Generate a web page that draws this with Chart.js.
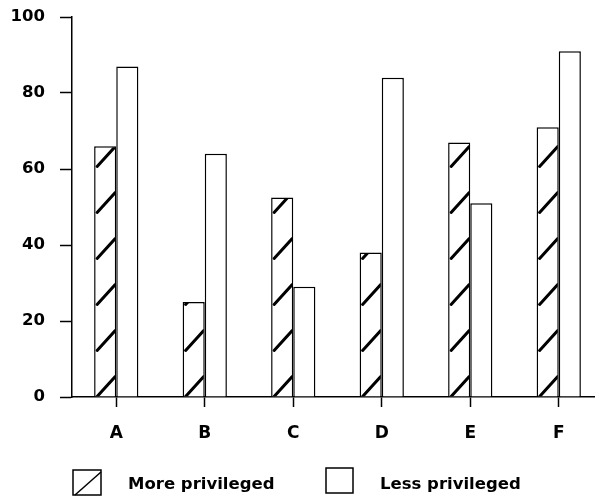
<!DOCTYPE html>
<html>
<head>
<meta charset="utf-8">
<script src="https://cdn.jsdelivr.net/npm/chart.js@4/dist/chart.umd.min.js"></script>
<style>
  html, body { margin: 0; padding: 0; background: #fff; overflow: hidden; }
  #wrap { width: 595px; height: 496px; overflow: hidden; }
  canvas { display: block; }
</style>
</head>
<body>
<div id="wrap"><canvas id="c" width="610" height="496"></canvas></div>
<script>
const categories = ['A', 'B', 'C', 'D', 'E', 'F'];
const morePrivileged = [66, 25, 52.5, 38, 67, 71];
const lessPrivileged = [87, 64, 29, 84, 51, 91];
const yTicks = [0, 20, 40, 60, 80, 100];
const seriesNames = ['More privileged', 'Less privileged'];

const FONT = "'DejaVu Sans', sans-serif";

const hatchPlugin = {
  id: 'hatch',
  afterDatasetsDraw(chart) {
    const ctx = chart.ctx;
    const meta = chart.getDatasetMeta(0);
    meta.data.forEach(bar => {
      const p = bar.getProps(['x', 'y', 'base', 'width'], true);
      const left = p.x - p.width / 2, right = p.x + p.width / 2;
      ctx.save();
      ctx.beginPath();
      ctx.rect(left + 1, p.y + 1, p.width - 2, p.base - p.y - 1);
      ctx.clip();
      ctx.strokeStyle = '#000';
      ctx.lineWidth = 3;
      ctx.lineCap = 'round';
      ctx.beginPath();
      for (let yb = p.base; yb > p.y - 25; yb -= 46) {
        ctx.moveTo(left + 3, yb);
        ctx.lineTo(right - 1, yb - 20);
      }
      ctx.stroke();
      ctx.restore();
    });
  }
};

const legendPlugin = {
  id: 'customLegend',
  afterDraw(chart) {
    const ctx = chart.ctx;
    const items = [
      { box: [73, 470, 28, 25], tx: 128, hatch: true },
      { box: [326, 468, 27, 25], tx: 380, hatch: false }
    ];
    ctx.save();
    ctx.strokeStyle = '#000';
    ctx.fillStyle = '#000';
    ctx.lineWidth = 1.5;
    ctx.font = "bold 16.5px " + FONT;
    ctx.textBaseline = 'middle';
    items.forEach((it, i) => {
      const [bx, by, bw, bh] = it.box;
      ctx.strokeRect(bx, by, bw, bh);
      if (it.hatch) {
        ctx.beginPath();
        ctx.moveTo(bx + 2, by + bh);
        ctx.lineTo(bx + bw, by + 2);
        ctx.stroke();
      }
      ctx.fillText(chart.data.datasets[i].label, it.tx, 485);
    });
    ctx.restore();
  }
};

new Chart(document.getElementById('c'), {
  type: 'bar',
  data: {
    labels: categories,
    datasets: [
      {
        label: seriesNames[0],
        data: morePrivileged,
        backgroundColor: '#fff',
        borderColor: '#000',
        borderWidth: 1.5
      },
      {
        label: seriesNames[1],
        data: lessPrivileged,
        backgroundColor: '#fff',
        borderColor: '#000',
        borderWidth: 1.5
      }
    ]
  },
  options: {
    responsive: false,
    animation: false,
    layout: { padding: { left: 0, right: 7, top: 17, bottom: 0 } },
    datasets: { bar: { categoryPercentage: 0.5, barPercentage: 1.0 } },
    plugins: {
      legend: { display: false },
      tooltip: { enabled: false }
    },
    scales: {
      x: {
        offset: true,
        grid: { display: true, drawOnChartArea: false, offset: false, tickLength: 10, tickColor: '#000', tickWidth: 1.5 },
        border: { display: true, color: '#000', width: 1.5 },
        ticks: { color: '#000', padding: 16, font: { family: FONT, size: 17, weight: 'bold' } },
        afterFit(scale) { scale.height = 99; scale.paddingLeft = 0; scale.paddingRight = 0; }
      },
      y: {
        min: 0,
        max: 100,
        afterBuildTicks(scale) { scale.ticks = yTicks.map(v => ({ value: v })); },
        grid: { display: true, drawOnChartArea: false, tickLength: 12, tickColor: '#000', tickWidth: 1.5 },
        border: { display: true, color: '#000', width: 1.5 },
        ticks: { color: '#000', padding: 15, font: { family: FONT, size: 16.5, weight: 'bold' } },
        afterFit(scale) { scale.width = 72; scale.paddingTop = 0; scale.paddingBottom = 0; }
      }
    }
  },
  plugins: [hatchPlugin, legendPlugin]
});
</script>
</body>
</html>
